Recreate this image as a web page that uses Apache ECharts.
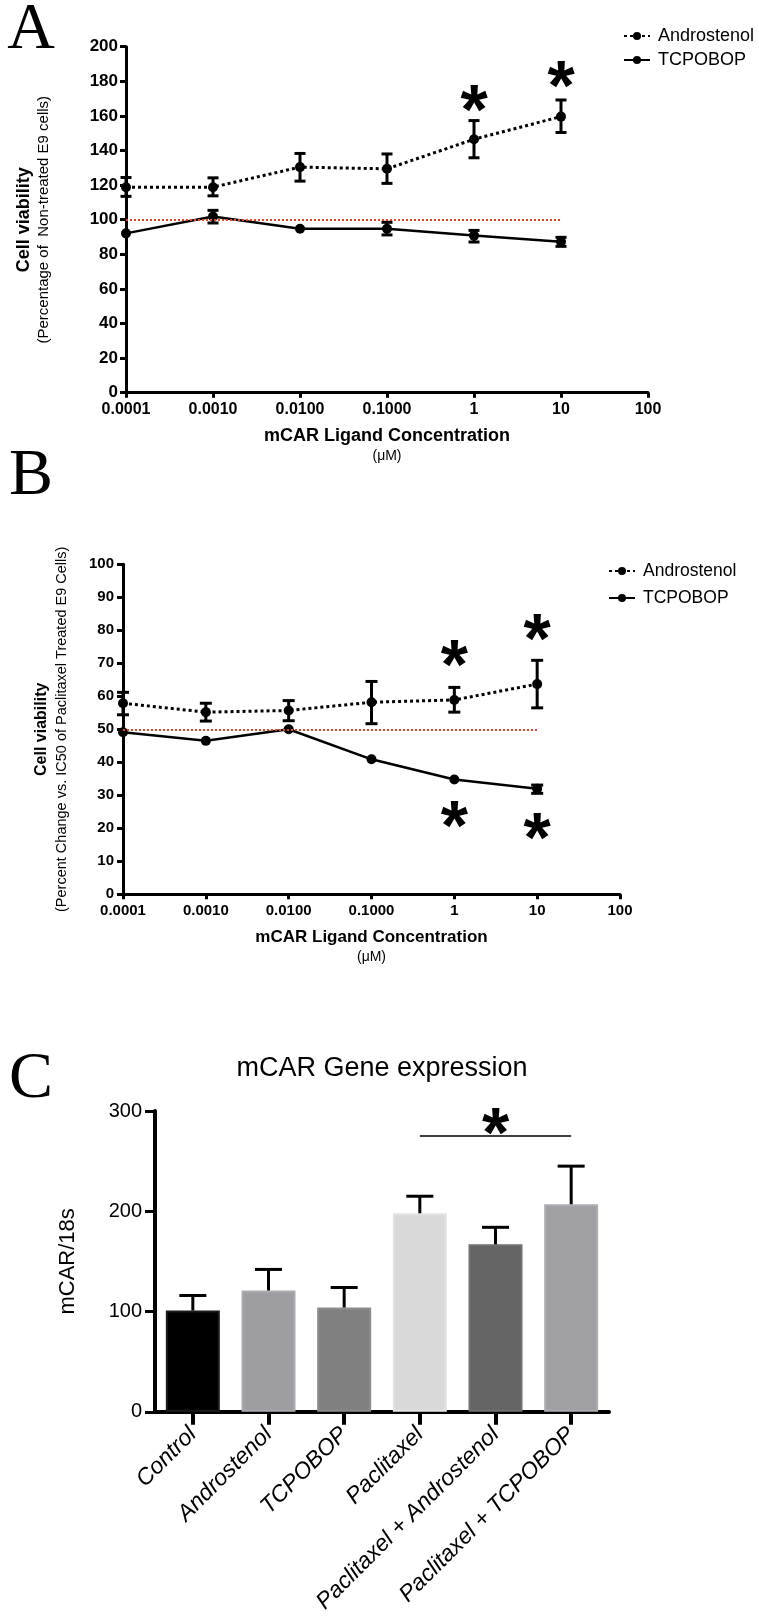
<!DOCTYPE html>
<html><head><meta charset="utf-8">
<script src="https://cdn.jsdelivr.net/npm/echarts@6/dist/echarts.min.js"></script>
<style>html,body{margin:0;padding:0;background:#fff}#c{width:759px;height:1616px}</style>
</head><body><div id="c"></div>
<script>
// ---------------- DATA ----------------
const concentrations = [0.0001, 0.001, 0.01, 0.1, 1, 10];
const xTickLabels = ['0.0001', '0.0010', '0.0100', '0.1000', '1', '10', '100'];
const seriesNames = ['Androstenol', 'TCPOBOP'];

// Panel A: cell viability (% of non-treated E9 cells)
const aAndroMean = [118.8, 118.8, 130.4, 129.4, 146.5, 159.6];
const aAndroLow  = [113.5, 113.8, 122.3, 121.0, 135.8, 150.4];
const aAndroHigh = [124.4, 124.2, 138.3, 138.0, 157.3, 169.2];
const aTcpoMean  = [92.1, 101.9, 94.8, 94.8, 90.8, 87.3];
const aTcpoLow   = [92.1, 98.1, 94.8, 91.2, 87.1, 84.6];
const aTcpoHigh  = [92.1, 105.4, 94.8, 98.5, 93.8, 89.8];
const aStarX = [1, 10];
const aStarY = [170, 184];
const aRefLevel = 100;

// Panel B: percent change vs IC50 of paclitaxel treated E9 cells
const bAndroMean = [57.9, 55.2, 55.7, 58.2, 58.9, 63.7];
const bAndroLow  = [54.4, 52.5, 52.6, 51.7, 55.2, 56.5];
const bAndroHigh = [61.2, 57.9, 58.7, 64.5, 62.7, 70.9];
const bTcpoMean  = [49.1, 46.5, 50.0, 40.9, 34.8, 32.0];
const bTcpoLow   = [49.1, 46.5, 50.0, 40.9, 34.8, 30.6];
const bTcpoHigh  = [49.1, 46.5, 50.0, 40.9, 34.8, 33.1];
const bStarX = [1, 10, 1, 10];
const bStarY = [73, 80.7, 24, 20.4];
const bRefLevel = 50;

// Panel C: mCAR gene expression
const cCategories = ['Control', 'Androstenol', 'TCPOBOP', 'Paclitaxel', 'Paclitaxel + Androstenol', 'Paclitaxel + TCPOBOP'];
const cMeans  = [101, 121, 104, 198, 167, 207];
const cErrTop = [116, 142, 124, 215, 184, 245];
const cSigFrom = 'Paclitaxel';
const cSigTo = 'Paclitaxel + TCPOBOP';
const cSigLevel = 275;
const cStarCat = 'Paclitaxel + Androstenol';
const cStarY = 289;

// ---------------- STYLE ----------------
const FONT = "'Liberation Sans', Arial, sans-serif";
const SERIF = "'Liberation Serif', 'Times New Roman', serif";
const cColors  = ['#000000', '#9e9ea2', '#808080', '#d9d9d9', '#646464', '#a0a0a4'];
const cBorders = ['#1c1c1c', '#ababaf', '#8d8d8d', '#e3e3e3', '#707070', '#adadb1'];
const STAR_FS = 70;
const RED = '#e2462a';

const chart = echarts.init(document.getElementById('c'), null, {renderer: 'canvas'});

function zip(xs, ys) { return xs.map((x, i) => [x, ys[i]]); }
function zip3(xs, a, b) { return xs.map((x, i) => [x, a[i], b[i]]); }

function errRender(capW) {
  return function (params, api) {
    const x = api.value(0), lo = api.value(1), hi = api.value(2);
    if (hi - lo < 0.01) return null;
    const pLo = api.coord([x, lo]), pHi = api.coord([x, hi]);
    const st = {stroke: '#000', lineWidth: 3};
    return {type: 'group', children: [
      {type: 'line', shape: {x1: pLo[0], y1: pLo[1], x2: pHi[0], y2: pHi[1]}, style: st},
      {type: 'line', shape: {x1: pLo[0] - capW / 2, y1: pLo[1], x2: pLo[0] + capW / 2, y2: pLo[1]}, style: st},
      {type: 'line', shape: {x1: pHi[0] - capW / 2, y1: pHi[1], x2: pHi[0] + capW / 2, y2: pHi[1]}, style: st}
    ]};
  };
}
function barErrRender(params, api) {
  const x = api.value(0), m = api.value(1), hi = api.value(2);
  const pM = api.coord([x, m]), pHi = api.coord([x, hi]);
  const st = {stroke: '#000', lineWidth: 3};
  return {type: 'group', children: [
    {type: 'line', shape: {x1: pM[0], y1: pM[1], x2: pHi[0], y2: pHi[1]}, style: st},
    {type: 'line', shape: {x1: pHi[0] - 13.5, y1: pHi[1], x2: pHi[0] + 13.5, y2: pHi[1]}, style: st}
  ]};
}
function starRender(params, api) {
  const p = api.coord([api.value(0), api.value(1)]);
  return {type: 'text', x: p[0], y: p[1] + STAR_FS * 0.23,
    style: {text: '*', fontSize: STAR_FS, fontWeight: 'bold', fontFamily: FONT,
      textAlign: 'center', textVerticalAlign: 'middle', fill: '#000'}};
}

function logXAxis(grid, labelSize, nameSize) {
  return {
    type: 'log', logBase: 10, gridIndex: grid, min: 0.0001, max: 100,
    axisLine: {show: true, lineStyle: {color: '#000', width: 3}},
    axisTick: {show: true, length: 5, lineStyle: {color: '#000', width: 3}},
    minorTick: {show: false}, splitLine: {show: false}, minorSplitLine: {show: false},
    axisLabel: {formatter: v => xTickLabels[Math.round(Math.log10(v)) + 4],
      fontSize: labelSize, fontWeight: 'bold', color: '#000', fontFamily: FONT, margin: 9},
    name: '{t|mCAR Ligand Concentration}\n{u|(\u03bcM)}',
    nameLocation: 'middle', nameGap: 32,
    nameTextStyle: {color: '#000', fontFamily: FONT, rich: {
      t: {fontSize: nameSize, fontWeight: 'bold', lineHeight: 22, fontFamily: FONT, color: '#000'},
      u: {fontSize: 14, lineHeight: 18, fontFamily: FONT, color: '#000'}}}
  };
}
function valYAxis(grid, max, interval, labelSize, margin, name, titleSize, subSize, gap) {
  return {
    type: 'value', gridIndex: grid, min: 0, max: max, interval: interval,
    axisLine: {show: true, lineStyle: {color: '#000', width: 3}},
    axisTick: {show: true, length: 6, lineStyle: {color: '#000', width: 3}},
    splitLine: {show: false},
    axisLabel: {fontSize: labelSize, fontWeight: 'bold', color: '#000', fontFamily: FONT, margin: margin},
    name: name, nameLocation: 'middle', nameRotate: 90, nameGap: gap,
    nameTextStyle: {color: '#000', fontFamily: FONT, rich: {
      t: {fontSize: titleSize, fontWeight: 'bold', lineHeight: 20, fontFamily: FONT, color: '#000'},
      s: {fontSize: subSize, lineHeight: 20, fontFamily: FONT, color: '#000'}}}
  };
}
function refLine(level) {
  return {symbol: 'none', silent: true, label: {show: false},
    lineStyle: {color: RED, type: [2, 2], width: 2},
    data: [[{coord: [concentrations[0], level]}, {coord: [concentrations[concentrations.length - 1], level]}]]};
}
function lineSeries(name, xi, mean, dotted, ref) {
  const s = {
    type: 'line', name: name, xAxisIndex: xi, yAxisIndex: xi,
    data: zip(concentrations, mean), symbol: 'circle', symbolSize: 10,
    itemStyle: {color: '#000'},
    lineStyle: {color: '#000', width: dotted ? 3 : 2.5, type: dotted ? [3, 3] : 'solid'},
    z: 3
  };
  if (ref !== undefined) s.markLine = refLine(ref);
  return s;
}
function legendAt(left, top, fs, gap) {
  return {
    data: seriesNames, orient: 'vertical', left: left, top: top,
    itemWidth: 26, itemHeight: 10, itemGap: gap, selectedMode: false,
    textStyle: {fontSize: fs, color: '#000', fontFamily: FONT, padding: [0, 0, 0, 3]}
  };
}

const option = {
  animation: false,
  backgroundColor: '#fff',
  legend: [legendAt(618, 22, 18, 6), legendAt(603, 557, 17.5, 9)],
  grid: [
    {left: 126, top: 46.7, width: 522, height: 346},
    {left: 123, top: 564.3, width: 497, height: 330},
    {left: 155, top: 1111, width: 454, height: 301}
  ],
  xAxis: [
    logXAxis(0, 16, 18),
    logXAxis(1, 15, 17),
    {
      type: 'category', gridIndex: 2, data: cCategories,
      axisLine: {show: true, lineStyle: {color: '#000', width: 4}},
      axisTick: {show: true, alignWithLabel: true, length: 13, lineStyle: {color: '#000', width: 4}},
      axisLabel: {rotate: 45, interval: 0, fontSize: 23, fontStyle: 'italic', color: '#000', fontFamily: FONT, margin: 19},
      splitLine: {show: false}
    }
  ],
  yAxis: [
    valYAxis(0, 200, 20, 17, 8, '{t|Cell viability}\n{s|(Percentage of  Non-treated E9 cells)}', 18, 15, 72),
    valYAxis(1, 100, 10, 15, 9, '{t|Cell viability}\n{s|(Percent Change vs. IC50 of Paclitaxel Treated E9 Cells)}', 16, 14.5, 51),
    {
      type: 'value', gridIndex: 2, min: 0, max: 300, interval: 100,
      axisLine: {show: true, lineStyle: {color: '#000', width: 4}},
      axisTick: {show: true, length: 10, lineStyle: {color: '#000', width: 3}},
      splitLine: {show: false},
      axisLabel: {fontSize: 20, color: '#000', fontFamily: FONT, margin: 13},
      name: 'mCAR/18s', nameLocation: 'middle', nameRotate: 90, nameGap: 76,
      nameTextStyle: {fontSize: 22, color: '#000', fontFamily: FONT}
    }
  ],
  graphic: [
    {type: 'text', x: 31, y: 31, style: {text: 'A', fontSize: 66, fontFamily: SERIF, textAlign: 'center', textVerticalAlign: 'middle', fill: '#000'}},
    {type: 'text', x: 31, y: 477, style: {text: 'B', fontSize: 66, fontFamily: SERIF, textAlign: 'center', textVerticalAlign: 'middle', fill: '#000'}},
    {type: 'text', x: 31, y: 1080, style: {text: 'C', fontSize: 66, fontFamily: SERIF, textAlign: 'center', textVerticalAlign: 'middle', fill: '#000'}},
    {type: 'text', x: 382, y: 1069, style: {text: 'mCAR Gene expression', fontSize: 27, fontFamily: FONT, textAlign: 'center', textVerticalAlign: 'middle', fill: '#000'}}
  ],
  series: [
    // Panel A
    lineSeries('Androstenol', 0, aAndroMean, true, aRefLevel),
    lineSeries('TCPOBOP', 0, aTcpoMean, false),
    {type: 'custom', xAxisIndex: 0, yAxisIndex: 0, renderItem: errRender(11), data: zip3(concentrations, aAndroLow, aAndroHigh), encode: {x: 0, y: [1, 2]}, z: 4, silent: true},
    {type: 'custom', xAxisIndex: 0, yAxisIndex: 0, renderItem: errRender(11), data: zip3(concentrations, aTcpoLow, aTcpoHigh), encode: {x: 0, y: [1, 2]}, z: 4, silent: true},
    {type: 'custom', xAxisIndex: 0, yAxisIndex: 0, renderItem: starRender, data: zip(aStarX, aStarY), encode: {x: 0, y: 1}, z: 5, silent: true},
    // Panel B
    lineSeries('Androstenol', 1, bAndroMean, true, bRefLevel),
    lineSeries('TCPOBOP', 1, bTcpoMean, false),
    {type: 'custom', xAxisIndex: 1, yAxisIndex: 1, renderItem: errRender(12), data: zip3(concentrations, bAndroLow, bAndroHigh), encode: {x: 0, y: [1, 2]}, z: 4, silent: true},
    {type: 'custom', xAxisIndex: 1, yAxisIndex: 1, renderItem: errRender(12), data: zip3(concentrations, bTcpoLow, bTcpoHigh), encode: {x: 0, y: [1, 2]}, z: 4, silent: true},
    {type: 'custom', xAxisIndex: 1, yAxisIndex: 1, renderItem: starRender, data: zip(bStarX, bStarY), encode: {x: 0, y: 1}, z: 5, silent: true},
    // Panel C
    {
      type: 'bar', xAxisIndex: 2, yAxisIndex: 2, barWidth: 54,
      data: cMeans.map((v, i) => ({value: v, itemStyle: {color: cColors[i], borderColor: cBorders[i], borderWidth: 2}})),
      markLine: {symbol: 'none', silent: true, label: {show: false},
        lineStyle: {color: '#000', width: 1.5, type: 'solid'},
        data: [[{coord: [cSigFrom, cSigLevel]}, {coord: [cSigTo, cSigLevel]}]]},
      z: 2
    },
    {type: 'custom', xAxisIndex: 2, yAxisIndex: 2, renderItem: barErrRender,
      data: cCategories.map((c, i) => [i, cMeans[i], cErrTop[i]]), encode: {x: 0, y: [1, 2]}, z: 3, silent: true},
    {type: 'custom', xAxisIndex: 2, yAxisIndex: 2, renderItem: starRender,
      data: [[cCategories.indexOf(cStarCat), cStarY]], encode: {x: 0, y: 1}, z: 5, silent: true}
  ]
};
chart.setOption(option);
</script>
</body></html>
